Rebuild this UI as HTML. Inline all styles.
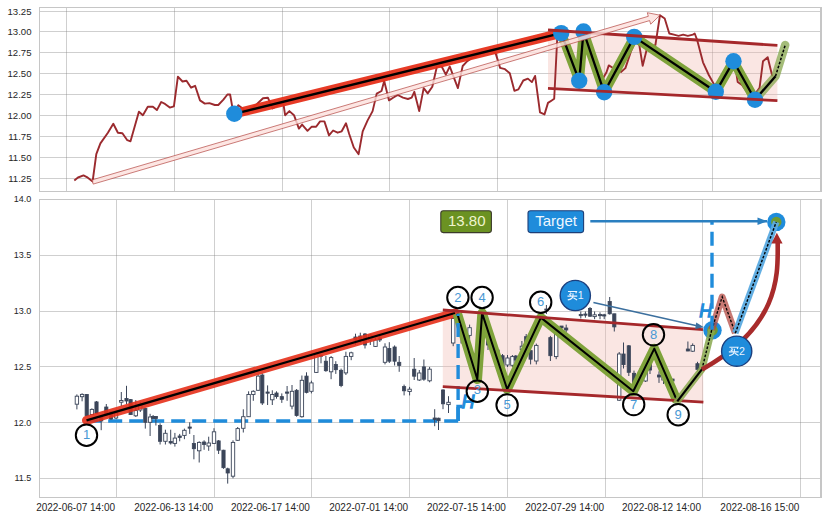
<!DOCTYPE html><html><head><meta charset="utf-8"><style>html,body{margin:0;padding:0;background:#fff;width:827px;height:520px;overflow:hidden}</style></head><body><svg width="827" height="520" viewBox="0 0 827 520" style="display:block">
<rect x="0" y="0" width="827" height="520" fill="#ffffff"/>
<g shape-rendering="crispEdges">
<line x1="66.1" y1="7.4" x2="66.1" y2="191.3" stroke="#808080" stroke-opacity="0.38" stroke-width="1"/>
<line x1="174.6" y1="7.4" x2="174.6" y2="191.3" stroke="#808080" stroke-opacity="0.38" stroke-width="1"/>
<line x1="282.8" y1="7.4" x2="282.8" y2="191.3" stroke="#808080" stroke-opacity="0.38" stroke-width="1"/>
<line x1="389.3" y1="7.4" x2="389.3" y2="191.3" stroke="#808080" stroke-opacity="0.38" stroke-width="1"/>
<line x1="497.5" y1="7.4" x2="497.5" y2="191.3" stroke="#808080" stroke-opacity="0.38" stroke-width="1"/>
<line x1="604.2" y1="7.4" x2="604.2" y2="191.3" stroke="#808080" stroke-opacity="0.38" stroke-width="1"/>
<line x1="712.4" y1="7.4" x2="712.4" y2="191.3" stroke="#808080" stroke-opacity="0.38" stroke-width="1"/>
<line x1="39.6" y1="11.1" x2="821.0" y2="11.1" stroke="#808080" stroke-opacity="0.38" stroke-width="1"/>
<line x1="39.6" y1="31.2" x2="821.0" y2="31.2" stroke="#808080" stroke-opacity="0.38" stroke-width="1"/>
<line x1="39.6" y1="52.2" x2="821.0" y2="52.2" stroke="#808080" stroke-opacity="0.38" stroke-width="1"/>
<line x1="39.6" y1="73.3" x2="821.0" y2="73.3" stroke="#808080" stroke-opacity="0.38" stroke-width="1"/>
<line x1="39.6" y1="94.3" x2="821.0" y2="94.3" stroke="#808080" stroke-opacity="0.38" stroke-width="1"/>
<line x1="39.6" y1="115.3" x2="821.0" y2="115.3" stroke="#808080" stroke-opacity="0.38" stroke-width="1"/>
<line x1="39.6" y1="136.3" x2="821.0" y2="136.3" stroke="#808080" stroke-opacity="0.38" stroke-width="1"/>
<line x1="39.6" y1="157.4" x2="821.0" y2="157.4" stroke="#808080" stroke-opacity="0.38" stroke-width="1"/>
<line x1="39.6" y1="178.4" x2="821.0" y2="178.4" stroke="#808080" stroke-opacity="0.38" stroke-width="1"/>
</g>
<text x="0" y="0" transform="translate(31.5,14.5) scale(0.98,1)" font-size="9.8" text-anchor="end" fill="#262626" font-family='"Liberation Sans", sans-serif'>13.25</text>
<text x="0" y="0" transform="translate(31.5,34.6) scale(0.98,1)" font-size="9.8" text-anchor="end" fill="#262626" font-family='"Liberation Sans", sans-serif'>13.00</text>
<text x="0" y="0" transform="translate(31.5,55.6) scale(0.98,1)" font-size="9.8" text-anchor="end" fill="#262626" font-family='"Liberation Sans", sans-serif'>12.75</text>
<text x="0" y="0" transform="translate(31.5,76.7) scale(0.98,1)" font-size="9.8" text-anchor="end" fill="#262626" font-family='"Liberation Sans", sans-serif'>12.50</text>
<text x="0" y="0" transform="translate(31.5,97.7) scale(0.98,1)" font-size="9.8" text-anchor="end" fill="#262626" font-family='"Liberation Sans", sans-serif'>12.25</text>
<text x="0" y="0" transform="translate(31.5,118.7) scale(0.98,1)" font-size="9.8" text-anchor="end" fill="#262626" font-family='"Liberation Sans", sans-serif'>12.00</text>
<text x="0" y="0" transform="translate(31.5,139.7) scale(0.98,1)" font-size="9.8" text-anchor="end" fill="#262626" font-family='"Liberation Sans", sans-serif'>11.75</text>
<text x="0" y="0" transform="translate(31.5,160.8) scale(0.98,1)" font-size="9.8" text-anchor="end" fill="#262626" font-family='"Liberation Sans", sans-serif'>11.50</text>
<text x="0" y="0" transform="translate(31.5,181.8) scale(0.98,1)" font-size="9.8" text-anchor="end" fill="#262626" font-family='"Liberation Sans", sans-serif'>11.25</text>
<polygon points="548.0,30.0 777.4,45.4 777.4,100.6 548.0,88.4" fill="#f2b8ae" fill-opacity="0.35"/>
<polyline fill="none" stroke="#9b2a2e" stroke-width="1.9" stroke-linejoin="round" points="74.3,180.5 78,177.5 83.5,175.4 86.9,177.1 92.6,181.5 96.3,154.2 100.4,143.4 107.9,132.7 113.3,123.8 117.9,132.7 122.4,133.2 127.3,140.2 130.5,141.3 138.9,111.7 142.9,115.2 147.8,106.8 152.9,106.8 156.9,110.1 161.2,102 165,103.9 169.8,107.6 173.9,106.3 177.9,76.7 182.5,81.5 186.5,80.7 191.1,87.7 195.1,85.8 200,100.4 204.8,103.6 209.4,103.1 214.8,105 218.3,105 223.4,99.6 227.4,94.5 230.1,94.5 232.1,105.8 234.3,113.8 238.3,105.2 242,108 247,112 252,108 257,104 263,98.2 267.9,97.7 272.5,108.5 277,106 283.3,103 285.1,115.2 289.4,111.1 294,115.2 298.9,128.6 302.1,124.6 307.5,130.8 311.5,126.8 316.1,126.8 320.1,121.4 324.4,121.4 329,135.4 333.1,130.5 337.6,132.7 341.7,131.3 346,123.3 349.2,134 353.8,147.5 358.6,154.2 362.7,131.3 367.5,120.6 372.6,111.1 376.7,93.6 381.5,91 384.2,81 389,100.4 393.1,97.7 397.7,95 403,97.7 407.9,99 411.7,97.7 414.3,91.8 419.2,111.1 423.7,88.1 427.7,93.4 432.3,86.7 436.9,66.5 441.7,66.5 445.8,74.6 449.8,66.5 453.8,77.3 457.9,88.1 462.7,66 467.3,61.1 472,58 477,56 482,53 487,52 491,50 495.6,53.1 500.1,67.9 505,69.2 509.8,73.3 514.4,90.8 518.4,89.4 523.3,80.5 527.9,78.6 531.9,82.1 535.1,75.9 540,112.3 544.5,114.4 548,102.9 552.1,100.2 554.2,98.8 557.3,37 562,33 567,45 572,60 577,75 582,50 587,40 592,55 597,65 602,80 606.5,72.3 608.8,65.4 612.7,67.7 617,70 621,72 625.4,68.1 631.2,50.8 635,42 639.3,45 642.7,65.8 646.7,49.6 651,47 655.4,45 660,15.2 664.7,18.5 669.3,33.5 673.9,34.6 678.5,35.8 683.2,34.6 687.8,35.8 692.9,34.6 694.7,33.5 697.3,40.4 703,62.3 708.8,75 714.6,85.4 720,80 725,70 730,62 735.4,67 737.7,82 742,85 747,92 752,98 759.6,87.7 763,61.2 767.7,57.2 772.3,76.2"/>
<line x1="234.3" y1="113.8" x2="561.2" y2="33.1" stroke="#e6301a" stroke-opacity="0.95" stroke-width="9.4" stroke-linecap="round"/>
<line x1="234.3" y1="113.8" x2="561.2" y2="33.1" stroke="#000" stroke-width="2.4"/>
<polyline fill="none" stroke="#7fa33b" stroke-width="9.5" stroke-linejoin="round" points="561.2,33.1 579.2,80.8 583.5,31.5 604.2,92.3 634.2,36.9 715.8,91.8 733.5,61.2 755,99.7"/>
<polyline fill="none" stroke="#000" stroke-width="2.3" stroke-linejoin="round" points="561.2,33.1 579.2,80.8 583.5,31.5 604.2,92.3 634.2,36.9 715.8,91.8 733.5,61.2 755,99.7"/>
<polyline fill="none" stroke="#86a64c" stroke-opacity="0.75" stroke-width="8.5" stroke-linecap="round" stroke-linejoin="round" points="755,99.7 775.5,76.3 785.2,45.1"/>
<line x1="755" y1="99.7" x2="775.5" y2="76.3" stroke="#000" stroke-width="2.4"/>
<line x1="775.5" y1="76.3" x2="785.2" y2="45.1" stroke="#000" stroke-width="1.5" stroke-dasharray="2.6 1.6"/>
<circle cx="234.3" cy="113.8" r="8.2" fill="#1f8cdb"/>
<circle cx="561.2" cy="33.1" r="8.2" fill="#1f8cdb"/>
<circle cx="583.5" cy="31.5" r="8.2" fill="#1f8cdb"/>
<circle cx="579.2" cy="80.8" r="8.2" fill="#1f8cdb"/>
<circle cx="604.2" cy="92.3" r="8.2" fill="#1f8cdb"/>
<circle cx="634.2" cy="36.9" r="8.2" fill="#1f8cdb"/>
<circle cx="715.8" cy="91.8" r="8.2" fill="#1f8cdb"/>
<circle cx="733.5" cy="61.2" r="8.2" fill="#1f8cdb"/>
<circle cx="755" cy="99.7" r="8.2" fill="#1f8cdb"/>
<line x1="548.0" y1="30.0" x2="777.4" y2="45.4" stroke="#a5282b" stroke-width="2.8"/>
<line x1="548.0" y1="88.4" x2="777.4" y2="100.6" stroke="#a5282b" stroke-width="2.8"/>
<polygon points="93.2,184.1 649.6,20.6 650.7,24.2 660.0,15.2 647.3,12.7 648.3,16.3 92.0,179.9" fill="#fde0dc" fill-opacity="0.8" stroke="#b0403c" stroke-opacity="0.85" stroke-width="0.8" stroke-linejoin="miter"/>
<rect x="39.6" y="7.4" width="781.4" height="183.9" fill="none" stroke="#c6c6c6" stroke-width="1.1" shape-rendering="crispEdges"/>
<g shape-rendering="crispEdges">
<line x1="116.5" y1="199.5" x2="116.5" y2="497.2" stroke="#808080" stroke-opacity="0.38" stroke-width="1"/>
<line x1="214.5" y1="199.5" x2="214.5" y2="497.2" stroke="#808080" stroke-opacity="0.38" stroke-width="1"/>
<line x1="311.3" y1="199.5" x2="311.3" y2="497.2" stroke="#808080" stroke-opacity="0.38" stroke-width="1"/>
<line x1="409.6" y1="199.5" x2="409.6" y2="497.2" stroke="#808080" stroke-opacity="0.38" stroke-width="1"/>
<line x1="507.3" y1="199.5" x2="507.3" y2="497.2" stroke="#808080" stroke-opacity="0.38" stroke-width="1"/>
<line x1="605.6" y1="199.5" x2="605.6" y2="497.2" stroke="#808080" stroke-opacity="0.38" stroke-width="1"/>
<line x1="702.4" y1="199.5" x2="702.4" y2="497.2" stroke="#808080" stroke-opacity="0.38" stroke-width="1"/>
<line x1="800.7" y1="199.5" x2="800.7" y2="497.2" stroke="#808080" stroke-opacity="0.38" stroke-width="1"/>
<line x1="39.6" y1="199.5" x2="821.0" y2="199.5" stroke="#808080" stroke-opacity="0.38" stroke-width="1"/>
<line x1="39.6" y1="255.3" x2="821.0" y2="255.3" stroke="#808080" stroke-opacity="0.38" stroke-width="1"/>
<line x1="39.6" y1="311.1" x2="821.0" y2="311.1" stroke="#808080" stroke-opacity="0.38" stroke-width="1"/>
<line x1="39.6" y1="366.9" x2="821.0" y2="366.9" stroke="#808080" stroke-opacity="0.38" stroke-width="1"/>
<line x1="39.6" y1="422.7" x2="821.0" y2="422.7" stroke="#808080" stroke-opacity="0.38" stroke-width="1"/>
<line x1="39.6" y1="478.5" x2="821.0" y2="478.5" stroke="#808080" stroke-opacity="0.38" stroke-width="1"/>
</g>
<text x="0" y="0" transform="translate(31.3,202.4) scale(0.92,1)" font-size="9.8" text-anchor="end" fill="#262626" font-family='"Liberation Sans", sans-serif'>14.0</text>
<text x="0" y="0" transform="translate(31.3,258.2) scale(0.92,1)" font-size="9.8" text-anchor="end" fill="#262626" font-family='"Liberation Sans", sans-serif'>13.5</text>
<text x="0" y="0" transform="translate(31.3,314.0) scale(0.92,1)" font-size="9.8" text-anchor="end" fill="#262626" font-family='"Liberation Sans", sans-serif'>13.0</text>
<text x="0" y="0" transform="translate(31.3,369.8) scale(0.92,1)" font-size="9.8" text-anchor="end" fill="#262626" font-family='"Liberation Sans", sans-serif'>12.5</text>
<text x="0" y="0" transform="translate(31.3,425.6) scale(0.92,1)" font-size="9.8" text-anchor="end" fill="#262626" font-family='"Liberation Sans", sans-serif'>12.0</text>
<text x="0" y="0" transform="translate(31.3,481.4) scale(0.92,1)" font-size="9.8" text-anchor="end" fill="#262626" font-family='"Liberation Sans", sans-serif'>11.5</text>
<text x="115.1" y="511" font-size="10" text-anchor="end" fill="#262626" font-family='"Liberation Sans", sans-serif'>2022-06-07 14:00</text>
<text x="213.1" y="511" font-size="10" text-anchor="end" fill="#262626" font-family='"Liberation Sans", sans-serif'>2022-06-13 14:00</text>
<text x="309.90000000000003" y="511" font-size="10" text-anchor="end" fill="#262626" font-family='"Liberation Sans", sans-serif'>2022-06-17 14:00</text>
<text x="408.20000000000005" y="511" font-size="10" text-anchor="end" fill="#262626" font-family='"Liberation Sans", sans-serif'>2022-07-01 14:00</text>
<text x="505.90000000000003" y="511" font-size="10" text-anchor="end" fill="#262626" font-family='"Liberation Sans", sans-serif'>2022-07-15 14:00</text>
<text x="604.2" y="511" font-size="10" text-anchor="end" fill="#262626" font-family='"Liberation Sans", sans-serif'>2022-07-29 14:00</text>
<text x="701.0" y="511" font-size="10" text-anchor="end" fill="#262626" font-family='"Liberation Sans", sans-serif'>2022-08-12 14:00</text>
<text x="799.3000000000001" y="511" font-size="10" text-anchor="end" fill="#262626" font-family='"Liberation Sans", sans-serif'>2022-08-16 15:00</text>
<polygon points="442.8,310.0 703.0,329.6 703.4,402.1 442.8,386.6" fill="#f2b8ae" fill-opacity="0.35"/>
<line x1="87.2" y1="421.0" x2="458.2" y2="421.0" stroke="#1f8cdb" stroke-width="3.4" stroke-dasharray="14 7"/>
<polyline fill="none" stroke="#1f8cdb" stroke-width="3.6" points="458.1,421 458.1,406.5 462.5,406.5"/>
<text x="0" y="0" font-size="19" font-style="italic" fill="#1f8cdb" stroke="#1f8cdb" stroke-width="1.3" transform="translate(461.8,408.2) scale(0.92,1)" font-family='"Liberation Sans", sans-serif'>H</text>
<text x="0" y="0" font-size="19" font-style="italic" fill="#1f8cdb" stroke="#1f8cdb" stroke-width="1.3" transform="translate(699.3,316.6) scale(0.92,1)" font-family='"Liberation Sans", sans-serif'>H</text>
<line x1="76.9" y1="394.4" x2="76.9" y2="409.4" stroke="#3b4559" stroke-width="1"/>
<rect x="75.2" y="396.2" width="3.4" height="8.0" fill="#fff" stroke="#3b4559" stroke-width="0.9"/>
<line x1="82.1" y1="393.3" x2="82.1" y2="401.3" stroke="#3b4559" stroke-width="1"/>
<rect x="80.4" y="394.4" width="3.4" height="2.3" fill="#fff" stroke="#3b4559" stroke-width="0.9"/>
<line x1="86.7" y1="394" x2="86.7" y2="416" stroke="#3b4559" stroke-width="1"/>
<rect x="85.1" y="394.4" width="3.2" height="21.4" fill="#3b4559" stroke="#3b4559" stroke-width="0.8"/>
<line x1="91.9" y1="408.3" x2="91.9" y2="415" stroke="#3b4559" stroke-width="1"/>
<rect x="90.2" y="409.4" width="3.4" height="5.2" fill="#fff" stroke="#3b4559" stroke-width="0.9"/>
<line x1="96.5" y1="401" x2="96.5" y2="414" stroke="#3b4559" stroke-width="1"/>
<rect x="94.9" y="401.9" width="3.2" height="11.6" fill="#3b4559" stroke="#3b4559" stroke-width="0.8"/>
<line x1="101.2" y1="416" x2="101.2" y2="430.2" stroke="#3b4559" stroke-width="1"/>
<rect x="99.6" y="417" width="3.2" height="4.0" fill="#3b4559" stroke="#3b4559" stroke-width="0.8"/>
<line x1="106.3" y1="404" x2="106.3" y2="416" stroke="#3b4559" stroke-width="1"/>
<rect x="104.7" y="407" width="3.2" height="8.0" fill="#3b4559" stroke="#3b4559" stroke-width="0.8"/>
<line x1="111" y1="411" x2="111" y2="420" stroke="#3b4559" stroke-width="1"/>
<rect x="109.4" y="412" width="3.2" height="7.0" fill="#3b4559" stroke="#3b4559" stroke-width="0.8"/>
<line x1="116" y1="412" x2="116" y2="419" stroke="#3b4559" stroke-width="1"/>
<rect x="114.3" y="413" width="3.4" height="5.0" fill="#fff" stroke="#3b4559" stroke-width="0.9"/>
<line x1="121.3" y1="392" x2="121.3" y2="406" stroke="#3b4559" stroke-width="1"/>
<rect x="119.6" y="400.5" width="3.4" height="1.7" fill="#fff" stroke="#3b4559" stroke-width="0.9"/>
<line x1="126.5" y1="385.8" x2="126.5" y2="404" stroke="#3b4559" stroke-width="1"/>
<rect x="124.9" y="398.5" width="3.2" height="2.5" fill="#3b4559" stroke="#3b4559" stroke-width="0.8"/>
<line x1="130.6" y1="399" x2="130.6" y2="415" stroke="#3b4559" stroke-width="1"/>
<rect x="129.0" y="399.6" width="3.2" height="15.0" fill="#3b4559" stroke="#3b4559" stroke-width="0.8"/>
<line x1="135.8" y1="400" x2="135.8" y2="417" stroke="#3b4559" stroke-width="1"/>
<rect x="134.1" y="410.6" width="3.4" height="5.2" fill="#fff" stroke="#3b4559" stroke-width="0.9"/>
<line x1="140.3" y1="402" x2="140.3" y2="412" stroke="#3b4559" stroke-width="1"/>
<rect x="138.6" y="405" width="3.4" height="5.0" fill="#fff" stroke="#3b4559" stroke-width="0.9"/>
<line x1="145.3" y1="408" x2="145.3" y2="428.6" stroke="#3b4559" stroke-width="1"/>
<rect x="143.7" y="408.5" width="3.2" height="13.8" fill="#3b4559" stroke="#3b4559" stroke-width="0.8"/>
<line x1="150.1" y1="413.8" x2="150.1" y2="436" stroke="#3b4559" stroke-width="1"/>
<rect x="148.4" y="417" width="3.4" height="5.3" fill="#fff" stroke="#3b4559" stroke-width="0.9"/>
<line x1="153.1" y1="415" x2="153.1" y2="419" stroke="#3b4559" stroke-width="1"/>
<rect x="151.5" y="416.4" width="3.2" height="2.1" fill="#3b4559" stroke="#3b4559" stroke-width="0.8"/>
<line x1="155.9" y1="416" x2="155.9" y2="425.5" stroke="#3b4559" stroke-width="1"/>
<rect x="154.3" y="416.4" width="3.2" height="2.1" fill="#3b4559" stroke="#3b4559" stroke-width="0.8"/>
<line x1="160.1" y1="423.3" x2="160.1" y2="444.5" stroke="#3b4559" stroke-width="1"/>
<rect x="158.5" y="425.5" width="3.2" height="15.8" fill="#3b4559" stroke="#3b4559" stroke-width="0.8"/>
<line x1="165.4" y1="429.7" x2="165.4" y2="444.5" stroke="#3b4559" stroke-width="1"/>
<rect x="163.7" y="433.3" width="3.4" height="8.0" fill="#fff" stroke="#3b4559" stroke-width="0.9"/>
<line x1="170.7" y1="429.7" x2="170.7" y2="444.5" stroke="#3b4559" stroke-width="1"/>
<rect x="169.1" y="441.5" width="3.2" height="1.5" fill="#3b4559" stroke="#3b4559" stroke-width="0.8"/>
<line x1="174.9" y1="432.9" x2="174.9" y2="446.6" stroke="#3b4559" stroke-width="1"/>
<rect x="173.2" y="438.1" width="3.4" height="5.3" fill="#fff" stroke="#3b4559" stroke-width="0.9"/>
<line x1="179.7" y1="433.9" x2="179.7" y2="441.3" stroke="#3b4559" stroke-width="1"/>
<rect x="178.1" y="436" width="3.2" height="1.5" fill="#3b4559" stroke="#3b4559" stroke-width="0.8"/>
<line x1="184.4" y1="428.6" x2="184.4" y2="439.2" stroke="#3b4559" stroke-width="1"/>
<rect x="182.7" y="430.3" width="3.4" height="5.1" fill="#fff" stroke="#3b4559" stroke-width="0.9"/>
<line x1="189.7" y1="422.3" x2="189.7" y2="433.9" stroke="#3b4559" stroke-width="1"/>
<rect x="188.1" y="427" width="3.2" height="1.2" fill="#3b4559" stroke="#3b4559" stroke-width="0.8"/>
<line x1="193.9" y1="435" x2="193.9" y2="459.3" stroke="#3b4559" stroke-width="1"/>
<rect x="192.3" y="443.4" width="3.2" height="5.3" fill="#3b4559" stroke="#3b4559" stroke-width="0.8"/>
<line x1="199.2" y1="441.3" x2="199.2" y2="462.5" stroke="#3b4559" stroke-width="1"/>
<rect x="197.5" y="442.4" width="3.4" height="8.4" fill="#fff" stroke="#3b4559" stroke-width="0.9"/>
<line x1="204.1" y1="440.3" x2="204.1" y2="449.8" stroke="#3b4559" stroke-width="1"/>
<rect x="202.5" y="442" width="3.2" height="2.5" fill="#3b4559" stroke="#3b4559" stroke-width="0.8"/>
<line x1="208.7" y1="436.7" x2="208.7" y2="450.8" stroke="#3b4559" stroke-width="1"/>
<rect x="207.0" y="443" width="3.4" height="3.0" fill="#fff" stroke="#3b4559" stroke-width="0.9"/>
<line x1="214" y1="428.2" x2="214" y2="444" stroke="#3b4559" stroke-width="1"/>
<rect x="212.3" y="431.8" width="3.4" height="11.6" fill="#fff" stroke="#3b4559" stroke-width="0.9"/>
<line x1="218.6" y1="440" x2="218.6" y2="454" stroke="#3b4559" stroke-width="1"/>
<rect x="217.0" y="440.9" width="3.2" height="9.3" fill="#3b4559" stroke="#3b4559" stroke-width="0.8"/>
<line x1="223.5" y1="449.8" x2="223.5" y2="468.8" stroke="#3b4559" stroke-width="1"/>
<rect x="221.9" y="450.2" width="3.2" height="17.5" fill="#3b4559" stroke="#3b4559" stroke-width="0.8"/>
<line x1="227.7" y1="467.7" x2="227.7" y2="483.6" stroke="#3b4559" stroke-width="1"/>
<rect x="226.1" y="468.8" width="3.2" height="4.2" fill="#3b4559" stroke="#3b4559" stroke-width="0.8"/>
<line x1="233" y1="440.3" x2="233" y2="478.3" stroke="#3b4559" stroke-width="1"/>
<rect x="231.3" y="442.4" width="3.4" height="33.8" fill="#fff" stroke="#3b4559" stroke-width="0.9"/>
<line x1="237.7" y1="427" x2="237.7" y2="441" stroke="#3b4559" stroke-width="1"/>
<rect x="236.0" y="428.6" width="3.4" height="11.7" fill="#fff" stroke="#3b4559" stroke-width="0.9"/>
<line x1="243.3" y1="409.3" x2="243.3" y2="432.5" stroke="#3b4559" stroke-width="1"/>
<rect x="241.6" y="416.7" width="3.4" height="11.6" fill="#fff" stroke="#3b4559" stroke-width="0.9"/>
<line x1="248.6" y1="391.3" x2="248.6" y2="417" stroke="#3b4559" stroke-width="1"/>
<rect x="246.9" y="394.5" width="3.4" height="22.2" fill="#fff" stroke="#3b4559" stroke-width="0.9"/>
<line x1="253.3" y1="390.3" x2="253.3" y2="400.8" stroke="#3b4559" stroke-width="1"/>
<rect x="251.6" y="391.3" width="3.4" height="3.2" fill="#fff" stroke="#3b4559" stroke-width="0.9"/>
<line x1="258.1" y1="374.4" x2="258.1" y2="391" stroke="#3b4559" stroke-width="1"/>
<rect x="256.4" y="376.1" width="3.4" height="14.2" fill="#fff" stroke="#3b4559" stroke-width="0.9"/>
<line x1="262.3" y1="373.3" x2="262.3" y2="405" stroke="#3b4559" stroke-width="1"/>
<rect x="260.7" y="375" width="3.2" height="28.0" fill="#3b4559" stroke="#3b4559" stroke-width="0.8"/>
<line x1="267.6" y1="385.4" x2="267.6" y2="405" stroke="#3b4559" stroke-width="1"/>
<rect x="266.0" y="392" width="3.2" height="1.2" fill="#3b4559" stroke="#3b4559" stroke-width="0.8"/>
<line x1="272.3" y1="390.3" x2="272.3" y2="405" stroke="#3b4559" stroke-width="1"/>
<rect x="270.6" y="394.5" width="3.4" height="5.3" fill="#fff" stroke="#3b4559" stroke-width="0.9"/>
<line x1="276.5" y1="391.3" x2="276.5" y2="398.7" stroke="#3b4559" stroke-width="1"/>
<rect x="274.9" y="393" width="3.2" height="3.6" fill="#3b4559" stroke="#3b4559" stroke-width="0.8"/>
<line x1="281.8" y1="393.4" x2="281.8" y2="402.9" stroke="#3b4559" stroke-width="1"/>
<rect x="280.2" y="396.6" width="3.2" height="2.7" fill="#3b4559" stroke="#3b4559" stroke-width="0.8"/>
<line x1="287.1" y1="386" x2="287.1" y2="400.8" stroke="#3b4559" stroke-width="1"/>
<rect x="285.5" y="392" width="3.2" height="1.2" fill="#3b4559" stroke="#3b4559" stroke-width="0.8"/>
<line x1="292" y1="385" x2="292" y2="409.3" stroke="#3b4559" stroke-width="1"/>
<rect x="290.3" y="391.3" width="3.4" height="14.8" fill="#fff" stroke="#3b4559" stroke-width="0.9"/>
<line x1="296.6" y1="389" x2="296.6" y2="416.7" stroke="#3b4559" stroke-width="1"/>
<rect x="295.0" y="390.3" width="3.2" height="25.3" fill="#3b4559" stroke="#3b4559" stroke-width="0.8"/>
<line x1="301.9" y1="375.5" x2="301.9" y2="417.7" stroke="#3b4559" stroke-width="1"/>
<rect x="300.2" y="380.3" width="3.4" height="36.4" fill="#fff" stroke="#3b4559" stroke-width="0.9"/>
<line x1="306.5" y1="372.3" x2="306.5" y2="393.4" stroke="#3b4559" stroke-width="1"/>
<rect x="304.9" y="376.1" width="3.2" height="16.3" fill="#3b4559" stroke="#3b4559" stroke-width="0.8"/>
<line x1="311.4" y1="380.7" x2="311.4" y2="393.4" stroke="#3b4559" stroke-width="1"/>
<rect x="309.7" y="382.9" width="3.4" height="8.4" fill="#fff" stroke="#3b4559" stroke-width="0.9"/>
<line x1="316.3" y1="351.7" x2="316.3" y2="373" stroke="#3b4559" stroke-width="1"/>
<rect x="314.6" y="353.8" width="3.4" height="18.6" fill="#fff" stroke="#3b4559" stroke-width="0.9"/>
<line x1="321" y1="354.9" x2="321" y2="363.3" stroke="#3b4559" stroke-width="1"/>
<rect x="319.4" y="355" width="3.2" height="1.2" fill="#3b4559" stroke="#3b4559" stroke-width="0.8"/>
<line x1="325.9" y1="355.9" x2="325.9" y2="371.8" stroke="#3b4559" stroke-width="1"/>
<rect x="324.3" y="361.2" width="3.2" height="9.5" fill="#3b4559" stroke="#3b4559" stroke-width="0.8"/>
<line x1="331.1" y1="356" x2="331.1" y2="379.2" stroke="#3b4559" stroke-width="1"/>
<rect x="329.4" y="357.6" width="3.4" height="14.2" fill="#fff" stroke="#3b4559" stroke-width="0.9"/>
<line x1="335.8" y1="361.2" x2="335.8" y2="373.9" stroke="#3b4559" stroke-width="1"/>
<rect x="334.2" y="364.4" width="3.2" height="5.3" fill="#3b4559" stroke="#3b4559" stroke-width="0.8"/>
<line x1="341.1" y1="368.6" x2="341.1" y2="387.2" stroke="#3b4559" stroke-width="1"/>
<rect x="339.5" y="370.3" width="3.2" height="15.2" fill="#3b4559" stroke="#3b4559" stroke-width="0.8"/>
<line x1="345.9" y1="351.7" x2="345.9" y2="375" stroke="#3b4559" stroke-width="1"/>
<rect x="344.2" y="356.4" width="3.4" height="16.5" fill="#fff" stroke="#3b4559" stroke-width="0.9"/>
<line x1="351.2" y1="351.7" x2="351.2" y2="360.2" stroke="#3b4559" stroke-width="1"/>
<rect x="349.5" y="352.8" width="3.4" height="3.6" fill="#fff" stroke="#3b4559" stroke-width="0.9"/>
<line x1="355.5" y1="333.7" x2="355.5" y2="345" stroke="#3b4559" stroke-width="1"/>
<rect x="353.9" y="337" width="3.2" height="3.0" fill="#3b4559" stroke="#3b4559" stroke-width="0.8"/>
<line x1="360.3" y1="332.7" x2="360.3" y2="343" stroke="#3b4559" stroke-width="1"/>
<rect x="358.7" y="336" width="3.2" height="4.0" fill="#3b4559" stroke="#3b4559" stroke-width="0.8"/>
<line x1="365" y1="333" x2="365" y2="348.5" stroke="#3b4559" stroke-width="1"/>
<rect x="363.4" y="334" width="3.2" height="11.0" fill="#3b4559" stroke="#3b4559" stroke-width="0.8"/>
<line x1="370.3" y1="334" x2="370.3" y2="345" stroke="#3b4559" stroke-width="1"/>
<rect x="368.6" y="335" width="3.4" height="5.0" fill="#fff" stroke="#3b4559" stroke-width="0.9"/>
<line x1="375.5" y1="338" x2="375.5" y2="347" stroke="#3b4559" stroke-width="1"/>
<rect x="373.8" y="340" width="3.4" height="6.4" fill="#fff" stroke="#3b4559" stroke-width="0.9"/>
<line x1="379.8" y1="336" x2="379.8" y2="342" stroke="#3b4559" stroke-width="1"/>
<rect x="378.2" y="338" width="3.2" height="2.0" fill="#3b4559" stroke="#3b4559" stroke-width="0.8"/>
<line x1="385" y1="343.3" x2="385" y2="364.4" stroke="#3b4559" stroke-width="1"/>
<rect x="383.3" y="347" width="3.4" height="15.3" fill="#fff" stroke="#3b4559" stroke-width="0.9"/>
<line x1="389.3" y1="342.2" x2="389.3" y2="363" stroke="#3b4559" stroke-width="1"/>
<rect x="387.7" y="348.5" width="3.2" height="12.7" fill="#3b4559" stroke="#3b4559" stroke-width="0.8"/>
<line x1="394.6" y1="345.4" x2="394.6" y2="365.5" stroke="#3b4559" stroke-width="1"/>
<rect x="393.0" y="347" width="3.2" height="14.2" fill="#3b4559" stroke="#3b4559" stroke-width="0.8"/>
<line x1="399.2" y1="356" x2="399.2" y2="371.8" stroke="#3b4559" stroke-width="1"/>
<rect x="397.6" y="362.3" width="3.2" height="3.2" fill="#3b4559" stroke="#3b4559" stroke-width="0.8"/>
<line x1="404.1" y1="384.6" x2="404.1" y2="395.4" stroke="#3b4559" stroke-width="1"/>
<rect x="402.5" y="386.6" width="3.2" height="4.2" fill="#3b4559" stroke="#3b4559" stroke-width="0.8"/>
<line x1="409.6" y1="386.9" x2="409.6" y2="395.4" stroke="#3b4559" stroke-width="1"/>
<rect x="407.9" y="389.2" width="3.4" height="2.3" fill="#fff" stroke="#3b4559" stroke-width="0.9"/>
<line x1="414.2" y1="358" x2="414.2" y2="380" stroke="#3b4559" stroke-width="1"/>
<rect x="412.6" y="369.2" width="3.2" height="7.0" fill="#3b4559" stroke="#3b4559" stroke-width="0.8"/>
<line x1="419.3" y1="370" x2="419.3" y2="381" stroke="#3b4559" stroke-width="1"/>
<rect x="417.6" y="373" width="3.4" height="7.0" fill="#fff" stroke="#3b4559" stroke-width="0.9"/>
<line x1="423.9" y1="359.5" x2="423.9" y2="380.8" stroke="#3b4559" stroke-width="1"/>
<rect x="422.3" y="366.9" width="3.2" height="12.3" fill="#3b4559" stroke="#3b4559" stroke-width="0.8"/>
<line x1="429.6" y1="366.9" x2="429.6" y2="382.3" stroke="#3b4559" stroke-width="1"/>
<rect x="427.9" y="369.2" width="3.4" height="11.6" fill="#fff" stroke="#3b4559" stroke-width="0.9"/>
<line x1="434.7" y1="409.2" x2="434.7" y2="426.2" stroke="#3b4559" stroke-width="1"/>
<rect x="433.1" y="418" width="3.2" height="1.5" fill="#3b4559" stroke="#3b4559" stroke-width="0.8"/>
<line x1="438.5" y1="417.7" x2="438.5" y2="430" stroke="#3b4559" stroke-width="1"/>
<rect x="436.9" y="418.2" width="3.2" height="2.6" fill="#3b4559" stroke="#3b4559" stroke-width="0.8"/>
<line x1="443" y1="389.2" x2="443" y2="409.2" stroke="#3b4559" stroke-width="1"/>
<rect x="441.4" y="390" width="3.2" height="13.8" fill="#3b4559" stroke="#3b4559" stroke-width="0.8"/>
<line x1="448.5" y1="396.2" x2="448.5" y2="413" stroke="#3b4559" stroke-width="1"/>
<rect x="446.8" y="402.3" width="3.4" height="2.3" fill="#fff" stroke="#3b4559" stroke-width="0.9"/>
<line x1="453.2" y1="317.7" x2="453.2" y2="346.2" stroke="#3b4559" stroke-width="1"/>
<rect x="451.5" y="318.5" width="3.4" height="24.5" fill="#fff" stroke="#3b4559" stroke-width="0.9"/>
<line x1="462.7" y1="325" x2="462.7" y2="345" stroke="#3b4559" stroke-width="1"/>
<rect x="461.0" y="330" width="3.4" height="13.0" fill="#fff" stroke="#3b4559" stroke-width="0.9"/>
<line x1="469.6" y1="324.6" x2="469.6" y2="340.4" stroke="#3b4559" stroke-width="1"/>
<rect x="467.9" y="327.7" width="3.4" height="7.7" fill="#fff" stroke="#3b4559" stroke-width="0.9"/>
<line x1="488" y1="326" x2="488" y2="350" stroke="#3b4559" stroke-width="1"/>
<rect x="486.4" y="330" width="3.2" height="15.0" fill="#3b4559" stroke="#3b4559" stroke-width="0.8"/>
<line x1="493" y1="336" x2="493" y2="354" stroke="#3b4559" stroke-width="1"/>
<rect x="491.3" y="340" width="3.4" height="10.0" fill="#fff" stroke="#3b4559" stroke-width="0.9"/>
<line x1="497.5" y1="346" x2="497.5" y2="364" stroke="#3b4559" stroke-width="1"/>
<rect x="495.9" y="350" width="3.2" height="10.0" fill="#3b4559" stroke="#3b4559" stroke-width="0.8"/>
<line x1="502.5" y1="354" x2="502.5" y2="368" stroke="#3b4559" stroke-width="1"/>
<rect x="500.9" y="355.7" width="3.2" height="10.4" fill="#3b4559" stroke="#3b4559" stroke-width="0.8"/>
<line x1="507.5" y1="355" x2="507.5" y2="367" stroke="#3b4559" stroke-width="1"/>
<rect x="505.8" y="358" width="3.4" height="7.0" fill="#fff" stroke="#3b4559" stroke-width="0.9"/>
<line x1="512.4" y1="355" x2="512.4" y2="367" stroke="#3b4559" stroke-width="1"/>
<rect x="510.7" y="356.6" width="3.4" height="8.7" fill="#fff" stroke="#3b4559" stroke-width="0.9"/>
<line x1="515.8" y1="355" x2="515.8" y2="366" stroke="#3b4559" stroke-width="1"/>
<rect x="514.2" y="356" width="3.2" height="4.0" fill="#3b4559" stroke="#3b4559" stroke-width="0.8"/>
<line x1="521.9" y1="341" x2="521.9" y2="352" stroke="#3b4559" stroke-width="1"/>
<rect x="520.2" y="346.2" width="3.4" height="3.5" fill="#fff" stroke="#3b4559" stroke-width="0.9"/>
<line x1="526.2" y1="334" x2="526.2" y2="348" stroke="#3b4559" stroke-width="1"/>
<rect x="524.6" y="336.7" width="3.2" height="8.3" fill="#3b4559" stroke="#3b4559" stroke-width="0.8"/>
<line x1="530.6" y1="348.8" x2="530.6" y2="364.4" stroke="#3b4559" stroke-width="1"/>
<rect x="529.0" y="350.6" width="3.2" height="8.6" fill="#3b4559" stroke="#3b4559" stroke-width="0.8"/>
<line x1="536.3" y1="343.6" x2="536.3" y2="364.4" stroke="#3b4559" stroke-width="1"/>
<rect x="534.6" y="345.4" width="3.4" height="15.6" fill="#fff" stroke="#3b4559" stroke-width="0.9"/>
<line x1="546.4" y1="305" x2="546.4" y2="314" stroke="#3b4559" stroke-width="1"/>
<rect x="544.8" y="309" width="3.2" height="1.2" fill="#3b4559" stroke="#3b4559" stroke-width="0.8"/>
<line x1="550.4" y1="335.9" x2="550.4" y2="361" stroke="#3b4559" stroke-width="1"/>
<rect x="548.8" y="337.6" width="3.2" height="18.1" fill="#3b4559" stroke="#3b4559" stroke-width="0.8"/>
<line x1="556.2" y1="332.4" x2="556.2" y2="359.2" stroke="#3b4559" stroke-width="1"/>
<rect x="554.5" y="333.3" width="3.4" height="23.3" fill="#fff" stroke="#3b4559" stroke-width="0.9"/>
<line x1="561.5" y1="326" x2="561.5" y2="335" stroke="#3b4559" stroke-width="1"/>
<rect x="559.9" y="326" width="3.2" height="2.0" fill="#3b4559" stroke="#3b4559" stroke-width="0.8"/>
<line x1="566.2" y1="324.6" x2="566.2" y2="332.3" stroke="#3b4559" stroke-width="1"/>
<rect x="564.6" y="328" width="3.2" height="2.0" fill="#3b4559" stroke="#3b4559" stroke-width="0.8"/>
<line x1="580.8" y1="311.5" x2="580.8" y2="318.5" stroke="#3b4559" stroke-width="1"/>
<rect x="579.2" y="314.5" width="3.2" height="1.2" fill="#3b4559" stroke="#3b4559" stroke-width="0.8"/>
<line x1="585.4" y1="311.5" x2="585.4" y2="317.7" stroke="#3b4559" stroke-width="1"/>
<rect x="583.8" y="314" width="3.2" height="1.2" fill="#3b4559" stroke="#3b4559" stroke-width="0.8"/>
<line x1="590" y1="307" x2="590" y2="317" stroke="#3b4559" stroke-width="1"/>
<rect x="588.4" y="308.5" width="3.2" height="7.7" fill="#3b4559" stroke="#3b4559" stroke-width="0.8"/>
<line x1="594.6" y1="311.5" x2="594.6" y2="319.2" stroke="#3b4559" stroke-width="1"/>
<rect x="592.9" y="314.8" width="3.4" height="1.8" fill="#fff" stroke="#3b4559" stroke-width="0.9"/>
<line x1="600" y1="312.3" x2="600" y2="319.2" stroke="#3b4559" stroke-width="1"/>
<rect x="598.4" y="314.5" width="3.2" height="1.2" fill="#3b4559" stroke="#3b4559" stroke-width="0.8"/>
<line x1="604.2" y1="313.8" x2="604.2" y2="319.2" stroke="#3b4559" stroke-width="1"/>
<rect x="602.6" y="314.8" width="3.2" height="1.2" fill="#3b4559" stroke="#3b4559" stroke-width="0.8"/>
<line x1="609.7" y1="297" x2="609.7" y2="314.6" stroke="#3b4559" stroke-width="1"/>
<rect x="608.1" y="301.5" width="3.2" height="12.3" fill="#3b4559" stroke="#3b4559" stroke-width="0.8"/>
<line x1="614.3" y1="313.8" x2="614.3" y2="331.5" stroke="#3b4559" stroke-width="1"/>
<rect x="612.7" y="313.8" width="3.2" height="13.1" fill="#3b4559" stroke="#3b4559" stroke-width="0.8"/>
<line x1="619.2" y1="352" x2="619.2" y2="401" stroke="#3b4559" stroke-width="1"/>
<rect x="617.5" y="354" width="3.4" height="46.2" fill="#fff" stroke="#3b4559" stroke-width="0.9"/>
<line x1="623.5" y1="342.5" x2="623.5" y2="368.5" stroke="#3b4559" stroke-width="1"/>
<rect x="621.9" y="354" width="3.2" height="10.6" fill="#3b4559" stroke="#3b4559" stroke-width="0.8"/>
<line x1="628.8" y1="345" x2="628.8" y2="376" stroke="#3b4559" stroke-width="1"/>
<rect x="627.2" y="345.8" width="3.2" height="26.5" fill="#3b4559" stroke="#3b4559" stroke-width="0.8"/>
<line x1="634" y1="370.6" x2="634" y2="385" stroke="#3b4559" stroke-width="1"/>
<rect x="632.4" y="373.3" width="3.2" height="9.6" fill="#3b4559" stroke="#3b4559" stroke-width="0.8"/>
<line x1="640" y1="368" x2="640" y2="386" stroke="#3b4559" stroke-width="1"/>
<rect x="638.3" y="372" width="3.4" height="12.0" fill="#fff" stroke="#3b4559" stroke-width="0.9"/>
<line x1="645.6" y1="370" x2="645.6" y2="382" stroke="#3b4559" stroke-width="1"/>
<rect x="643.9" y="371" width="3.4" height="10.0" fill="#fff" stroke="#3b4559" stroke-width="0.9"/>
<line x1="650" y1="356" x2="650" y2="374" stroke="#3b4559" stroke-width="1"/>
<rect x="648.4" y="360" width="3.2" height="10.0" fill="#3b4559" stroke="#3b4559" stroke-width="0.8"/>
<line x1="659" y1="371.3" x2="659" y2="382.9" stroke="#3b4559" stroke-width="1"/>
<rect x="657.4" y="375" width="3.2" height="2.0" fill="#3b4559" stroke="#3b4559" stroke-width="0.8"/>
<line x1="663.5" y1="368" x2="663.5" y2="384" stroke="#3b4559" stroke-width="1"/>
<rect x="661.8" y="372" width="3.4" height="8.0" fill="#fff" stroke="#3b4559" stroke-width="0.9"/>
<line x1="668" y1="376" x2="668" y2="390" stroke="#3b4559" stroke-width="1"/>
<rect x="666.4" y="380" width="3.2" height="6.0" fill="#3b4559" stroke="#3b4559" stroke-width="0.8"/>
<line x1="672.5" y1="379" x2="672.5" y2="384" stroke="#3b4559" stroke-width="1"/>
<rect x="670.9" y="379" width="3.2" height="2.0" fill="#3b4559" stroke="#3b4559" stroke-width="0.8"/>
<line x1="687.9" y1="341.5" x2="687.9" y2="351.2" stroke="#3b4559" stroke-width="1"/>
<rect x="686.3" y="349" width="3.2" height="2.0" fill="#3b4559" stroke="#3b4559" stroke-width="0.8"/>
<line x1="692.7" y1="343.4" x2="692.7" y2="352" stroke="#3b4559" stroke-width="1"/>
<rect x="691.0" y="345.4" width="3.4" height="5.8" fill="#fff" stroke="#3b4559" stroke-width="0.9"/>
<line x1="697.5" y1="361.8" x2="697.5" y2="371.3" stroke="#3b4559" stroke-width="1"/>
<rect x="695.9" y="363.7" width="3.2" height="5.7" fill="#3b4559" stroke="#3b4559" stroke-width="0.8"/>
<line x1="86.5" y1="420.4" x2="455" y2="313.0" stroke="#e6301a" stroke-opacity="0.9" stroke-width="9" stroke-linecap="round"/>
<line x1="86.5" y1="420.4" x2="455" y2="313.0" stroke="#000" stroke-width="2.2"/>
<polyline fill="none" stroke="#7fa33b" stroke-width="9.5" stroke-linejoin="round" points="457.3,313.7 477.3,379.3 482.1,313.1 507.2,389.2 540.9,317.6 633.3,391.2 654.3,348.6 677.3,401.3"/>
<polyline fill="none" stroke="#000" stroke-width="2.0" stroke-linejoin="round" points="457.3,313.7 477.3,379.3 482.1,313.1 507.2,389.2 540.9,317.6 633.3,391.2 654.3,348.6 677.3,401.3"/>
<line x1="458.1" y1="421.1" x2="458.1" y2="313.8" stroke="#1f8cdb" stroke-width="3.4" stroke-dasharray="14 7"/>
<line x1="442.8" y1="310.0" x2="703.0" y2="329.6" stroke="#a5282b" stroke-width="2.8"/>
<line x1="442.8" y1="386.6" x2="703.4" y2="402.1" stroke="#a5282b" stroke-width="2.8"/>
<circle cx="712.5" cy="330.2" r="9.2" fill="#1f8cdb"/><circle cx="712.5" cy="330.2" r="5.2" fill="#6f9a30"/>
<circle cx="776.3" cy="221.9" r="9.2" fill="#1f8cdb"/><circle cx="776.3" cy="221.9" r="5.2" fill="#6f9a30"/>
<polyline fill="none" stroke="#88a84e" stroke-opacity="0.85" stroke-width="7" stroke-linecap="round" stroke-linejoin="round" points="677.3,401.3 701.9,369.4 711.8,329.7"/>
<line x1="677.3" y1="401.3" x2="701.9" y2="369.4" stroke="#000" stroke-width="2.2"/>
<line x1="701.9" y1="369.4" x2="711.8" y2="329.7" stroke="#000" stroke-width="1.4" stroke-dasharray="2.6 1.6"/>
<polyline fill="none" stroke="#b3453d" stroke-opacity="0.72" stroke-width="6.8" stroke-linejoin="round" points="711.8,329.7 722.2,296.9 735.3,333.2"/>
<polyline fill="none" stroke="#000" stroke-width="1.3" stroke-dasharray="2.6 1.6" points="711.8,329.7 722.2,296.9 735.3,333.2"/>
<line x1="735.3" y1="333.2" x2="776.3" y2="221.9" stroke="#5aaae0" stroke-opacity="0.95" stroke-width="6.5"/>
<line x1="735.3" y1="333.2" x2="776.3" y2="221.9" stroke="#000" stroke-width="1.4" stroke-dasharray="2.6 1.6"/>
<line x1="712.0" y1="329.7" x2="712.0" y2="221.4" stroke="#1f8cdb" stroke-width="3.4" stroke-dasharray="14 7"/>
<path d="M702,369.4 C782,325.4 777.7,271.5 777.7,243" fill="none" stroke="#a82b2b" stroke-width="4.6"/>
<polygon points="776.8,232.8 771.4,243.6 782.6,243.6" fill="#a82b2b"/>
<line x1="593.4" y1="302.5" x2="698" y2="326" stroke="#3b6f9e" stroke-width="1.5"/>
<polygon points="704,327.3 696.2,322.4 695.2,328.9" fill="#3b6f9e"/>
<line x1="590.3" y1="221.2" x2="767" y2="221.2" stroke="#2a7fc0" stroke-width="2.4"/>
<polygon points="767.5,221.3 757.5,217.6 757.5,225.0" fill="#2a7fc0"/>
<circle cx="86.5" cy="435.2" r="10.7" fill="none" stroke="#000" stroke-width="2.0"/>
<text x="86.5" y="439.2" font-size="13" text-anchor="middle" fill="#4898d4" font-family='"Liberation Sans", sans-serif'>1</text>
<circle cx="457.9" cy="297.5" r="10.7" fill="none" stroke="#000" stroke-width="2.0"/>
<text x="457.9" y="301.5" font-size="13" text-anchor="middle" fill="#4898d4" font-family='"Liberation Sans", sans-serif'>2</text>
<circle cx="477.3" cy="391.2" r="10.7" fill="none" stroke="#000" stroke-width="2.0"/>
<text x="477.3" y="393.59999999999997" font-size="13" text-anchor="middle" fill="#4898d4" font-family='"Liberation Sans", sans-serif'>3</text>
<circle cx="482.1" cy="297.5" r="10.7" fill="none" stroke="#000" stroke-width="2.0"/>
<text x="482.1" y="301.5" font-size="13" text-anchor="middle" fill="#4898d4" font-family='"Liberation Sans", sans-serif'>4</text>
<circle cx="507.1" cy="405.0" r="10.7" fill="none" stroke="#000" stroke-width="2.0"/>
<text x="507.1" y="409.0" font-size="13" text-anchor="middle" fill="#4898d4" font-family='"Liberation Sans", sans-serif'>5</text>
<circle cx="540.7" cy="302.3" r="10.7" fill="none" stroke="#000" stroke-width="2.0"/>
<text x="540.7" y="306.3" font-size="13" text-anchor="middle" fill="#4898d4" font-family='"Liberation Sans", sans-serif'>6</text>
<circle cx="633.7" cy="404.6" r="10.7" fill="none" stroke="#000" stroke-width="2.0"/>
<text x="633.7" y="408.6" font-size="13" text-anchor="middle" fill="#4898d4" font-family='"Liberation Sans", sans-serif'>7</text>
<circle cx="653.5" cy="334.8" r="10.7" fill="none" stroke="#000" stroke-width="2.0"/>
<text x="653.5" y="338.8" font-size="13" text-anchor="middle" fill="#4898d4" font-family='"Liberation Sans", sans-serif'>8</text>
<circle cx="678.2" cy="414.7" r="10.7" fill="none" stroke="#000" stroke-width="2.0"/>
<text x="678.2" y="418.7" font-size="13" text-anchor="middle" fill="#4898d4" font-family='"Liberation Sans", sans-serif'>9</text>
<circle cx="575.3" cy="295.5" r="15.1" fill="#1f8cdb" stroke="#1c3f7e" stroke-width="1.4"/>
<path d="M567.98,291.51L576.51,291.51L575.78,293.35 M569.85,292.84L571.52,293.66 M569.23,294.27L571.10,295.19 M567.46,296.11L577.24,296.11 M572.97,293.15L572.97,296.11C572.77,298.06 571.10,299.28 567.77,299.90 M573.39,297.65L577.13,299.90" fill="none" stroke="#eaf4ff" stroke-width="1.15" stroke-linecap="butt" stroke-linejoin="miter"/>
<text x="577.65" y="299.4" font-size="10.6" fill="#eaf4ff" font-family='"Liberation Sans", sans-serif'>1</text>
<circle cx="736.7" cy="351.2" r="15.1" fill="#1f8cdb" stroke="#1c3f7e" stroke-width="1.4"/>
<path d="M729.38,347.21L737.91,347.21L737.18,349.05 M731.25,348.54L732.92,349.36 M730.63,349.97L732.50,350.89 M728.86,351.81L738.64,351.81 M734.37,348.85L734.37,351.81C734.17,353.76 732.50,354.98 729.17,355.60 M734.79,353.35L738.53,355.60" fill="none" stroke="#eaf4ff" stroke-width="1.15" stroke-linecap="butt" stroke-linejoin="miter"/>
<text x="739.0500000000001" y="355.09999999999997" font-size="10.6" fill="#eaf4ff" font-family='"Liberation Sans", sans-serif'>2</text>
<rect x="440.8" y="210.8" width="50.6" height="21.8" rx="2.5" fill="#6b9222" stroke="#3b3b2a" stroke-width="1.1"/>
<text x="466.8" y="226.1" font-size="15" text-anchor="middle" fill="#f0f5cf" font-family='"Liberation Sans", sans-serif'>13.80</text>
<rect x="528" y="210.8" width="55.6" height="21.8" rx="2.5" fill="#1f8cdb" stroke="#1d3f78" stroke-width="1.1"/>
<text x="556.1" y="225.9" font-size="15" text-anchor="middle" fill="#eef7ff" font-family='"Liberation Sans", sans-serif'>Target</text>
<rect x="39.6" y="199.5" width="781.4" height="297.7" fill="none" stroke="#c6c6c6" stroke-width="1.1" shape-rendering="crispEdges"/>
</svg></body></html>
